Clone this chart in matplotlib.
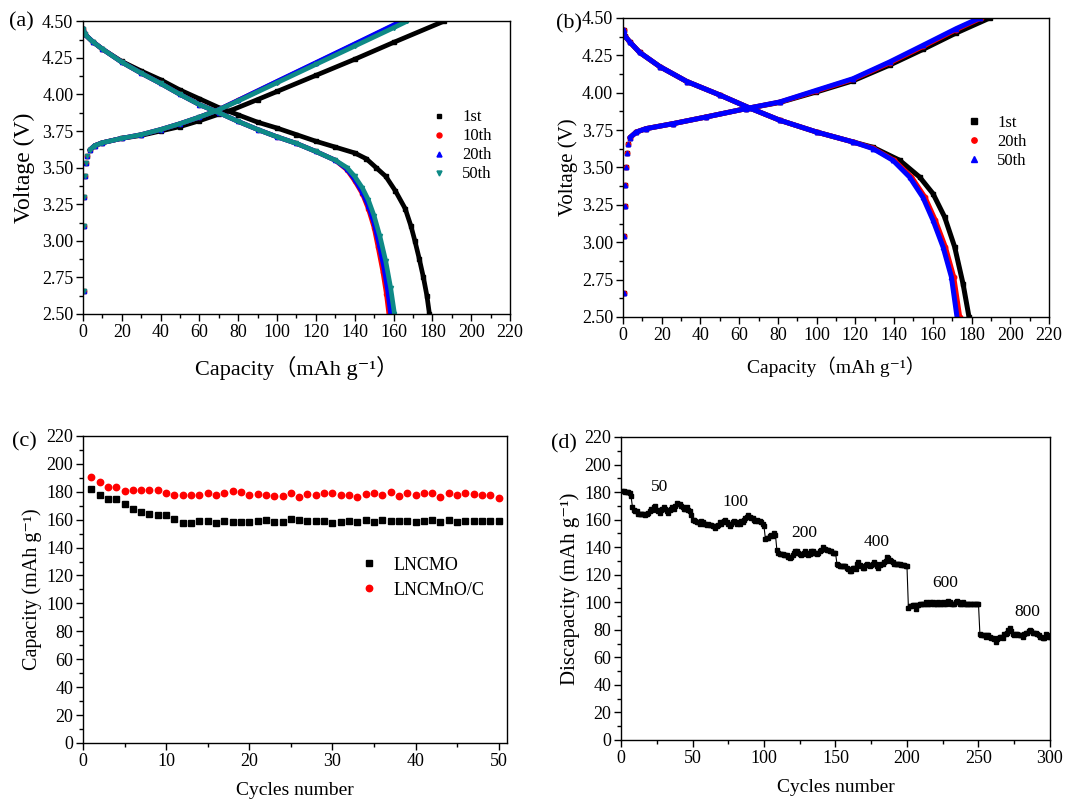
import numpy as np
import matplotlib
matplotlib.use("Agg")
import matplotlib.pyplot as plt
from matplotlib.ticker import MultipleLocator

plt.rcParams['font.family'] = ['Liberation Serif', 'Noto Sans CJK SC', 'DejaVu Serif']

# ---------------- (a) charge / discharge, LNCMO ----------------
A_LABELS = ["1st", "10th", "20th", "50th"]

a_chg_cap_1st = [0.3, 0.5, 0.7, 1.0, 1.4, 2.0, 3.5, 6, 10, 20, 30, 40, 50, 60, 70, 77, 90, 100, 120, 140, 160, 186]
a_chg_v_1st = [2.66, 3.10, 3.30, 3.44, 3.53, 3.58, 3.62, 3.65, 3.67, 3.70, 3.72, 3.75, 3.78, 3.82, 3.865, 3.895, 3.965, 4.02, 4.13, 4.24, 4.355, 4.50]
a_chg_cap_10th = [0.3, 0.5, 0.7, 1.0, 1.4, 2.0, 3.5, 6, 10, 20, 30, 40, 50, 60, 69, 80, 100, 120, 140, 160, 164.5]
a_chg_v_10th = [2.66, 3.10, 3.30, 3.44, 3.53, 3.58, 3.62, 3.65, 3.67, 3.70, 3.725, 3.76, 3.80, 3.845, 3.89, 3.96, 4.087, 4.214, 4.342, 4.47, 4.50]
a_chg_cap_20th = [0.3, 0.5, 0.7, 1.0, 1.4, 2.0, 3.5, 6, 10, 20, 30, 40, 50, 60, 69, 80, 100, 120, 140, 160, 164]
a_chg_v_20th = [2.66, 3.10, 3.30, 3.44, 3.53, 3.58, 3.62, 3.65, 3.67, 3.70, 3.725, 3.76, 3.80, 3.845, 3.89, 3.96, 4.089, 4.217, 4.345, 4.474, 4.50]
a_chg_cap_50th = [0.3, 0.5, 0.7, 1.0, 1.4, 2.0, 3.5, 6, 10, 20, 30, 40, 50, 60, 69, 80, 100, 120, 140, 160, 167]
a_chg_v_50th = [2.66, 3.10, 3.30, 3.44, 3.53, 3.58, 3.62, 3.65, 3.67, 3.70, 3.725, 3.76, 3.80, 3.845, 3.89, 3.955, 4.08, 4.205, 4.33, 4.455, 4.50]

a_dis_cap_1st = [0, 1, 5, 10, 20, 30, 40, 50, 60, 70, 80, 90, 100, 110, 120, 130, 140, 146, 151, 156, 161, 166, 169, 171, 173.3, 175.4, 177.2, 178.5]
a_dis_v_1st = [4.45, 4.41, 4.36, 4.31, 4.225, 4.16, 4.10, 4.03, 3.97, 3.91, 3.86, 3.81, 3.77, 3.725, 3.68, 3.64, 3.60, 3.56, 3.50, 3.44, 3.34, 3.22, 3.10, 3.00, 2.875, 2.75, 2.625, 2.50]
a_dis_cap_10th = [0, 1, 5, 10, 20, 30, 40, 50, 60, 70, 80, 90, 100, 110, 120, 130, 136, 140, 144, 147, 150, 152, 154.5, 156.3, 157.6]
a_dis_v_10th = [4.45, 4.41, 4.36, 4.31, 4.22, 4.145, 4.075, 4.00, 3.93, 3.875, 3.815, 3.76, 3.71, 3.665, 3.61, 3.55, 3.485, 3.41, 3.32, 3.22, 3.09, 2.96, 2.79, 2.64, 2.50]
a_dis_cap_20th = [0, 1, 5, 10, 20, 30, 40, 50, 60, 70, 80, 90, 100, 110, 120, 130, 136, 140, 144, 147, 150, 152.5, 155, 157, 158.5]
a_dis_v_20th = [4.45, 4.41, 4.36, 4.31, 4.22, 4.145, 4.075, 4.00, 3.93, 3.875, 3.815, 3.76, 3.71, 3.665, 3.61, 3.55, 3.49, 3.42, 3.33, 3.24, 3.12, 2.98, 2.82, 2.66, 2.50]
a_dis_cap_50th = [0, 1, 5, 10, 20, 30, 40, 50, 60, 70, 80, 90, 100, 110, 120, 130, 136, 140, 144, 147, 150, 153, 156, 158.5, 160.5]
a_dis_v_50th = [4.45, 4.41, 4.36, 4.31, 4.22, 4.145, 4.075, 4.00, 3.93, 3.875, 3.815, 3.76, 3.71, 3.665, 3.61, 3.55, 3.50, 3.44, 3.36, 3.28, 3.17, 3.03, 2.86, 2.68, 2.50]

# ---------------- (b) charge / discharge, LNCMnO/C ----------------
B_LABELS = ["1st", "20th", "50th"]

b_chg_cap_1st = [0.3, 0.4, 0.9, 1.2, 1.4, 2.1, 2.6, 3.6, 6.9, 12, 25.8, 43, 63.7, 80.9, 99.8, 118.8, 137.7, 154.9, 172.1, 189.4]
b_chg_v_1st = [2.66, 3.04, 3.24, 3.38, 3.50, 3.60, 3.66, 3.70, 3.737, 3.76, 3.793, 3.838, 3.894, 3.935, 4.005, 4.08, 4.185, 4.29, 4.40, 4.50]
b_chg_cap_20th = [0.3, 0.4, 0.9, 1.2, 1.4, 2.1, 2.6, 3.6, 6.9, 12, 25.8, 43, 63.7, 80.9, 99.8, 118.8, 137.7, 154.9, 172.1, 185]
b_chg_v_20th = [2.66, 3.04, 3.24, 3.38, 3.50, 3.60, 3.66, 3.70, 3.737, 3.76, 3.793, 3.838, 3.894, 3.937, 4.012, 4.09, 4.20, 4.31, 4.423, 4.50]
b_chg_cap_50th = [0.3, 0.4, 0.9, 1.2, 1.4, 2.1, 2.6, 3.6, 6.9, 12, 25.8, 43, 63.7, 80.9, 99.8, 118.8, 137.7, 154.9, 172.1, 184.2]
b_chg_v_50th = [2.66, 3.04, 3.24, 3.38, 3.50, 3.60, 3.66, 3.70, 3.737, 3.76, 3.793, 3.838, 3.894, 3.938, 4.016, 4.094, 4.206, 4.317, 4.429, 4.50]

b_dis_cap_1st = [0.3, 1, 3.5, 8.6, 19, 33, 50, 65, 81, 100, 119, 129.1, 142.9, 153.2, 160.1, 166.1, 171.3, 175.6, 178.7]
b_dis_v_1st = [4.42, 4.38, 4.34, 4.27, 4.175, 4.075, 3.985, 3.90, 3.816, 3.737, 3.67, 3.635, 3.548, 3.436, 3.325, 3.169, 2.968, 2.723, 2.50]
b_dis_cap_20th = [0.3, 1, 3.5, 8.6, 19, 33, 50, 65, 81, 100, 119, 129, 140, 149, 156, 161.3, 166.5, 170.8, 173.9]
b_dis_v_20th = [4.42, 4.38, 4.34, 4.27, 4.175, 4.075, 3.985, 3.90, 3.816, 3.737, 3.67, 3.63, 3.548, 3.436, 3.30, 3.147, 2.968, 2.768, 2.50]
b_dis_cap_50th = [0.3, 1, 3.5, 8.6, 19, 33, 50, 65, 81, 100, 119, 129.1, 139.4, 148, 154.9, 160.1, 165.3, 169.6, 172.5]
b_dis_v_50th = [4.42, 4.38, 4.34, 4.27, 4.175, 4.075, 3.985, 3.90, 3.816, 3.737, 3.67, 3.626, 3.548, 3.436, 3.30, 3.147, 2.968, 2.768, 2.50]

# ---------------- (c) cycling ----------------
c_cycles = list(range(1, 51))
c_lncmo = [182.1, 177.8, 174.9, 174.9, 171.4, 167.6, 165.8, 164.4, 163.0, 163.0,
           160.3, 157.7, 157.7, 158.7, 158.7, 157.7, 158.7, 158.4, 158.4, 158.0,
           159.2, 159.6, 158.4, 158.4, 160.3, 159.4, 158.7, 158.7, 158.7, 157.7,
           158.4, 158.9, 158.2, 159.4, 158.2, 159.9, 158.7, 158.7, 158.7, 158.0,
           158.7, 159.9, 158.4, 159.4, 158.0, 158.7, 159.2, 159.2, 159.2, 158.7]
c_lncmno_c = [190.4, 187.3, 183.7, 183.7, 180.4, 181.1, 181.0, 181.6, 181.1, 179.0,
              177.5, 177.5, 178.0, 178.0, 179.2, 177.5, 179.2, 180.4, 179.9, 177.5,
              178.2, 177.8, 177.1, 176.8, 179.0, 176.1, 178.2, 178.0, 179.0, 179.0,
              177.8, 177.8, 175.9, 178.2, 179.4, 177.8, 180.1, 176.8, 179.0, 178.0,
              179.0, 179.2, 175.9, 179.2, 177.5, 179.0, 178.2, 177.5, 177.8, 175.6]

# ---------------- (d) rate cycling ----------------
d_cycles = list(range(1, 301))
d_capacity = [
    181, 181, 180, 180, 180, 179, 177, 169, 167, 166,
    166, 164, 164, 164, 164, 164, 163, 164, 165, 166,
    168, 167, 169, 170, 167, 166, 165, 167, 168, 169,
    168, 166, 165, 167, 168, 169, 168, 170, 172, 171,
    171, 170, 169, 168, 168, 169, 167, 166, 163, 160,
    160, 159, 158, 158, 157, 159, 158, 157, 157, 156,
    157, 156, 156, 155, 155, 154, 155, 156, 158, 157,
    158, 159, 160, 158, 157, 155, 157, 158, 159, 158,
    157, 158, 157, 159, 158, 160, 161, 162, 163, 162,
    161, 161, 160, 159, 160, 159, 159, 158, 157, 155,
    146, 147, 147, 148, 149, 148, 150, 149, 138, 136,
    135, 135, 135, 134, 134, 134, 133, 132, 133, 134,
    136, 137, 137, 136, 135, 134, 135, 136, 137, 136,
    134, 135, 137, 137, 136, 136, 135, 136, 137, 138,
    140, 139, 139, 138, 138, 137, 137, 136, 136, 136,
    128, 127, 126, 126, 126, 126, 126, 125, 124, 123,
    123, 125, 125, 124, 128, 129, 127, 126, 125, 125,
    127, 128, 127, 126, 127, 128, 129, 128, 126, 125,
    127, 128, 128, 129, 130, 133, 132, 131, 130, 129,
    128, 128, 128, 128, 128, 127, 127, 127, 126, 126,
    96, 97, 97, 98, 98, 95, 98, 98, 99, 99,
    99, 99, 100, 99, 99, 100, 99, 100, 99, 99,
    99, 100, 99, 99, 100, 99, 99, 100, 101, 100,
    99, 99, 99, 100, 101, 100, 99, 99, 100, 99,
    99, 99, 99, 99, 99, 99, 99, 99, 99, 99,
    77, 76, 76, 76, 75, 76, 76, 75, 74, 74,
    73, 71, 73, 74, 75, 75, 74, 77, 77, 78,
    80, 81, 79, 77, 76, 77, 77, 76, 76, 76,
    75, 77, 78, 78, 79, 80, 79, 78, 78, 78,
    77, 76, 75, 75, 74, 74, 77, 76, 75, 75]
d_rate_labels = ["50", "100", "200", "400", "600", "800"]
d_rate_label_x = [27, 80, 128, 179, 227, 284]
d_rate_label_y = [184, 173, 150, 144, 114, 93]

TEAL = "#0e8a86"
CAP_LABEL = "Capacity\uff08mAh g\u207b\u00b9\uff09"


def style_axis(ax, xmaj, xmin, ymaj, ymin, tick_size):
    """Origin-like axis: outward ticks on left/bottom only, full box."""
    ax.xaxis.set_major_locator(MultipleLocator(xmaj))
    ax.xaxis.set_minor_locator(MultipleLocator(xmin))
    ax.yaxis.set_major_locator(MultipleLocator(ymaj))
    ax.yaxis.set_minor_locator(MultipleLocator(ymin))
    ax.tick_params(which="both", direction="out", top=False, right=False,
                   labelsize=tick_size, width=1.0, pad=2)
    ax.tick_params(which="major", length=5)
    ax.tick_params(which="minor", length=3)
    for sp in ax.spines.values():
        sp.set_linewidth(1.0)


def draw_curve(ax, cap, v, color, marker, ms, lw, n_steep=0, label=None):
    """Dense measured curve: thick trace plus the individual points."""
    ax.plot(cap[n_steep:], v[n_steep:], "-", color=color, lw=lw,
            solid_capstyle="round", solid_joinstyle="round")
    ax.plot(cap, v, ls="none", marker=marker, ms=ms, color=color,
            mec=color, label=label)


fig = plt.figure(figsize=(10.75, 8), dpi=100)

# ---------- (a) ----------
ax_a = fig.add_axes([0.0772, 0.6075, 0.3972, 0.366])
a_sets = [
    (a_chg_cap_1st, a_chg_v_1st, a_dis_cap_1st, a_dis_v_1st, "black", "s"),
    (a_chg_cap_10th, a_chg_v_10th, a_dis_cap_10th, a_dis_v_10th, "red", "o"),
    (a_chg_cap_20th, a_chg_v_20th, a_dis_cap_20th, a_dis_v_20th, "blue", "^"),
    (a_chg_cap_50th, a_chg_v_50th, a_dis_cap_50th, a_dis_v_50th, TEAL, "v"),
]
for (cc, cv, dc, dv, col, mk), lab in zip(a_sets, A_LABELS):
    draw_curve(ax_a, cc, cv, col, mk, 3.0, 3.4, n_steep=6)
    draw_curve(ax_a, dc, dv, col, mk, 3.0, 3.4, label=lab)
ax_a.set_xlim(0, 220)
ax_a.set_ylim(2.5, 4.5)
style_axis(ax_a, 20, 10, 0.25, 0.125, 13)
ax_a.yaxis.set_major_formatter(plt.FormatStrFormatter("%.2f"))
ax_a.set_xlabel(CAP_LABEL, fontsize=16, labelpad=11)
ax_a.set_ylabel("Voltage (V)", fontsize=17, labelpad=5)
ax_a.legend(loc="upper left", bbox_to_anchor=(0.775, 0.75), frameon=False,
            fontsize=12, handlelength=1.2, handletextpad=0.8,
            labelspacing=0.18, markerscale=1.2)

# ---------- (b) ----------
ax_b = fig.add_axes([0.5795, 0.6038, 0.3963, 0.3737])
b_sets = [
    (b_chg_cap_1st, b_chg_v_1st, b_dis_cap_1st, b_dis_v_1st, "black", "s"),
    (b_chg_cap_20th, b_chg_v_20th, b_dis_cap_20th, b_dis_v_20th, "red", "o"),
    (b_chg_cap_50th, b_chg_v_50th, b_dis_cap_50th, b_dis_v_50th, "blue", "^"),
]
for (cc, cv, dc, dc_v, col, mk), lab in zip(b_sets, B_LABELS):
    draw_curve(ax_b, cc, cv, col, mk, 3.2, 3.6, n_steep=7)
    draw_curve(ax_b, dc, dc_v, col, mk, 3.2, 3.6, label=lab)
ax_b.set_xlim(0, 220)
ax_b.set_ylim(2.5, 4.5)
style_axis(ax_b, 20, 10, 0.25, 0.125, 13)
ax_b.yaxis.set_major_formatter(plt.FormatStrFormatter("%.2f"))
ax_b.set_xlabel(CAP_LABEL, fontsize=14, labelpad=9)
ax_b.set_ylabel("Voltage (V)", fontsize=15, labelpad=3)
ax_b.legend(loc="upper left", bbox_to_anchor=(0.765, 0.725), frameon=False,
            fontsize=12, handlelength=1.2, handletextpad=0.8,
            labelspacing=0.18, markerscale=1.2)

# ---------- (c) ----------
ax_c = fig.add_axes([0.0772, 0.0713, 0.3944, 0.3838])
ax_c.plot(c_cycles, c_lncmo, ls="none", marker="s", ms=4.2, color="black",
          label="LNCMO")
ax_c.plot(c_cycles, c_lncmno_c, ls="none", marker="o", ms=4.6, color="red",
          label="LNCMnO/C")
ax_c.set_xlim(0, 51)
ax_c.set_ylim(0, 220)
style_axis(ax_c, 10, 5, 20, 10, 13)
ax_c.set_xlabel("Cycles number", fontsize=14, labelpad=9)
ax_c.set_ylabel("Capacity (mAh g\u207b\u00b9)", fontsize=14.5, labelpad=3)
ax_c.legend(loc="upper left", bbox_to_anchor=(0.61, 0.66), frameon=False,
            fontsize=13, handlelength=1.2, handletextpad=0.8,
            labelspacing=0.45)

# ---------- (d) ----------
ax_d = fig.add_axes([0.5777, 0.075, 0.399, 0.3788])
ax_d.plot(d_cycles, d_capacity, "-", color="black", lw=0.8,
          marker="s", ms=3.0)
for txt, x, y in zip(d_rate_labels, d_rate_label_x, d_rate_label_y):
    ax_d.text(x, y, txt, ha="center", va="center", fontsize=12.5)
ax_d.set_xlim(0, 300)
ax_d.set_ylim(0, 220)
style_axis(ax_d, 50, 25, 20, 10, 13)
ax_d.set_xlabel("Cycles number", fontsize=14, labelpad=9)
ax_d.set_ylabel("Discapacity (mAh g\u207b\u00b9)", fontsize=15, labelpad=3)

# panel letters
for letter, x, y in [("(a)", 0.0195, 0.9725), ("(b)", 0.529, 0.970),
                     ("(c)", 0.023, 0.4475), ("(d)", 0.5247, 0.445)]:
    fig.text(x, y, letter, ha="center", va="center", fontsize=16)

fig.savefig("out.png", dpi=100)
